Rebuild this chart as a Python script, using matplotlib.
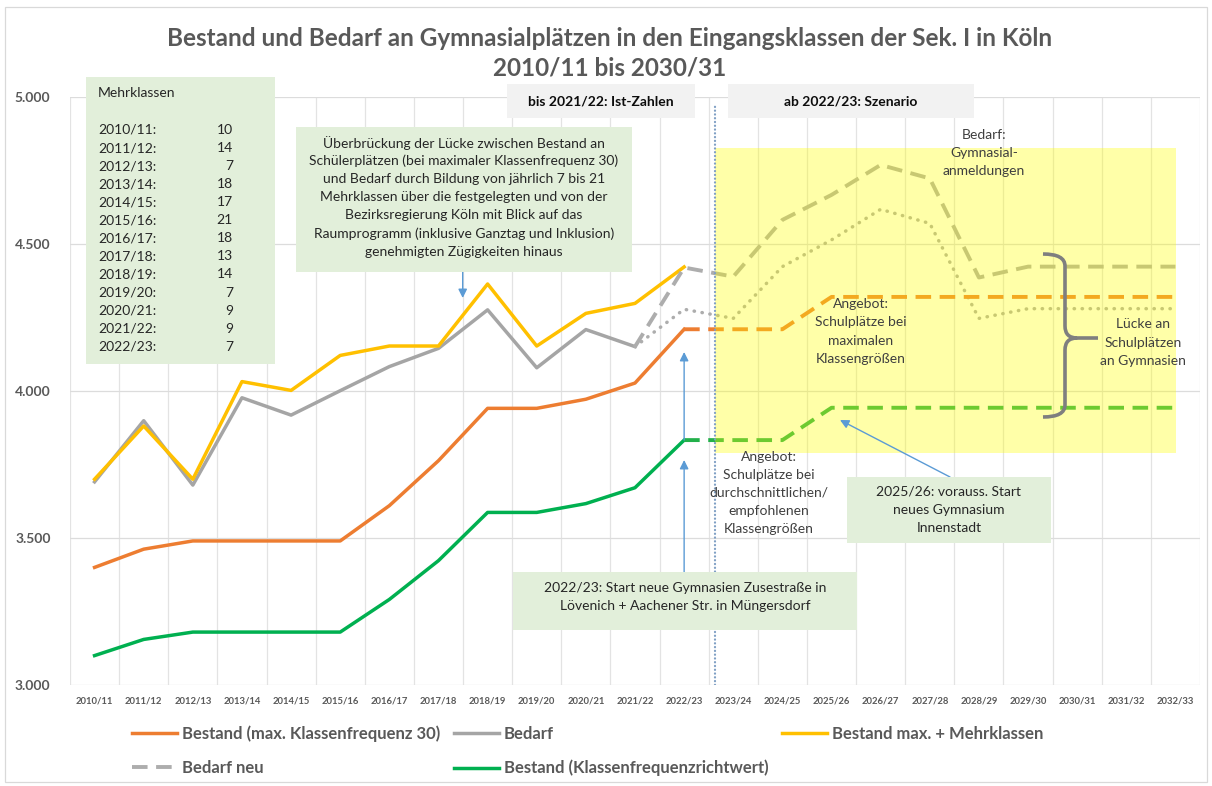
import matplotlib
matplotlib.use('Agg')
import matplotlib.pyplot as plt
import numpy as np
from matplotlib.patches import Rectangle, PathPatch
from matplotlib.path import Path

plt.rcParams['font.family'] = ['Lato', 'DejaVu Sans']

# ---------------- data ----------------
years = ['2010/11', '2011/12', '2012/13', '2013/14', '2014/15', '2015/16', '2016/17',
         '2017/18', '2018/19', '2019/20', '2020/21', '2021/22', '2022/23', '2023/24',
         '2024/25', '2025/26', '2026/27', '2027/28', '2028/29', '2029/30', '2030/31',
         '2031/32', '2032/33']

# actual values 2010/11 .. 2022/23
bestand_max = [3400, 3462, 3490, 3490, 3490, 3490, 3610, 3763, 3941, 3941, 3972, 4027, 4210]
bestand_richt = [3100, 3155, 3180, 3180, 3180, 3180, 3291, 3423, 3587, 3587, 3617, 3671, 3833]
bestand_mehr = [3700, 3881, 3700, 4032, 4002, 4121, 4153, 4153, 4364, 4153, 4264, 4298, 4422]
# 2010/11 .. 2021/22
bedarf = [3691, 3899, 3680, 3977, 3918, 4001, 4083, 4145, 4276, 4079, 4209, 4151]

# scenario 2022/23 .. 2032/33
bestand_max_szen = [4210, 4210, 4210, 4320, 4320, 4320, 4320, 4320, 4320, 4320, 4320]
bestand_richt_szen = [3833, 3833, 3833, 3943, 3943, 3943, 3943, 3943, 3943, 3943, 3943]
# 2021/22 .. 2032/33
bedarf_neu = [4151, 4420, 4389, 4582, 4667, 4769, 4723, 4386, 4423, 4423, 4423, 4423]
bedarf_neu_alt = [4151, 4278, 4247, 4423, 4514, 4618, 4570, 4247, 4280, 4280, 4280, 4280]

mk_years = ['2010/11', '2011/12', '2012/13', '2013/14', '2014/15', '2015/16', '2016/17',
            '2017/18', '2018/19', '2019/20', '2020/21', '2021/22', '2022/23']
mehrklassen = [10, 14, 7, 18, 17, 21, 18, 13, 14, 7, 9, 9, 7]

yticks = [3000, 3500, 4000, 4500, 5000]

# ---------------- layout helpers ----------------
W, H = 1212, 786
fig = plt.figure(figsize=(W / 100, H / 100), dpi=100)
AX_L, AX_R, AX_T, AX_B = 70, 1200, 97, 685
ax = fig.add_axes([AX_L / W, 1 - AX_B / H, (AX_R - AX_L) / W, (AX_B - AX_T) / H])
XMIN, XMAX = -0.5, len(years) - 0.5
YMIN, YMAX = 3000, 5000


def dx(px):
    return XMIN + (px - AX_L) / (AX_R - AX_L) * (XMAX - XMIN)


def dy(py):
    return YMIN + (AX_B - py) / (AX_B - AX_T) * (YMAX - YMIN)


def F(px, py):
    return (px / W, 1 - py / H)


x = np.arange(len(years))
i_neu = years.index('2021/22')
i_szen = years.index('2022/23')
x_ist = x[:len(bestand_max)]
x_bed = x[:len(bedarf)]
x_szen = x[i_szen:i_szen + len(bestand_max_szen)]
x_neu = x[i_neu:i_neu + len(bedarf_neu)]

C_OR = '#ED7D31'
C_GR = '#A5A5A5'
C_YE = '#FFC000'
C_GN = '#00B050'
C_GN2 = '#22B04A'
C_NEU = '#ADADAD'
LW = 2.5

l_max, = ax.plot(x_ist, bestand_max, color=C_OR, lw=LW, zorder=3,
                 label='Bestand (max. Klassenfrequenz 30)')
l_bed, = ax.plot(x_bed, bedarf, color=C_GR, lw=LW, zorder=3, label='Bedarf')
l_mehr, = ax.plot(x_ist, bestand_mehr, color=C_YE, lw=LW, zorder=3,
                  label='Bestand max. + Mehrklassen')
l_neu, = ax.plot(x_neu, bedarf_neu, color=C_NEU, lw=LW + 0.3, ls=(0, (4, 2.2)), zorder=3,
                 label='Bedarf neu')
ax.plot(x_neu, bedarf_neu_alt, color=C_NEU, lw=LW, ls=(0, (0.1, 2.2)),
        dash_capstyle='round', zorder=3)
l_richt, = ax.plot(x_ist, bestand_richt, color=C_GN, lw=LW, zorder=3,
                   label='Bestand (Klassenfrequenzrichtwert)')
ax.plot(x_szen, bestand_max_szen, color=C_OR, lw=LW + 0.3, ls=(0, (4, 2.2)), zorder=3)
ax.plot(x_szen, bestand_richt_szen, color=C_GN2, lw=LW + 0.3, ls=(0, (4, 2.2)), zorder=3)

# yellow scenario overlay
ax.add_patch(Rectangle((dx(715), dy(453)), dx(1176) - dx(715), dy(148) - dy(453),
                       facecolor='#FFFF00', alpha=0.34, edgecolor='none', zorder=4))
# vertical dotted separator
ax.plot([dx(715), dx(715)], [YMIN, dy(105)], color='#7F9FC4', lw=1.6,
        ls=(0, (0.1, 1.6)), dash_capstyle='round', zorder=5)

# axes styling
ax.set_xlim(XMIN, XMAX)
ax.set_ylim(YMIN, YMAX)
ax.set_xticks(x)
ax.set_xticklabels(years, fontsize=6.8, fontweight='bold', color='#595959')
ax.set_xticks(np.arange(XMIN, XMAX + 0.01, 1), minor=True)
ax.set_yticks(yticks)
ax.set_yticklabels([f'{v:,}'.replace(',', '.') for v in yticks], fontsize=10,
                   fontweight='bold', color='#595959')
ax.tick_params(axis='both', which='both', length=0)
ax.tick_params(axis='x', pad=8)
ax.tick_params(axis='y', pad=14)
ax.grid(True, which='minor', axis='x', color='#E3E3E3', lw=0.9)
ax.grid(True, which='major', axis='y', color='#DCDCDC', lw=0.9)
ax.grid(False, which='major', axis='x')
ax.set_axisbelow(True)
for s in ax.spines.values():
    s.set_visible(False)

# outer chart border
fig.patches.append(Rectangle(F(5, 782), 1202 / W, 775 / H, transform=fig.transFigure,
                             facecolor='none', edgecolor='#D9D9D9', lw=0.9))

# title
fig.text(*F(610, 38), 'Bestand und Bedarf an Gymnasialplätzen in den Eingangsklassen der Sek. I in Köln',
         ha='center', va='center', fontsize=17.5, fontweight='bold', color='#595959')
fig.text(*F(610, 68), '2010/11 bis 2030/31', ha='center', va='center', fontsize=17.5,
         fontweight='bold', color='#595959')


def fbox(x0, y0, x1, y1, color, z=6):
    ax.add_patch(Rectangle(F(x0, y1), (x1 - x0) / W, (y1 - y0) / H, transform=fig.transFigure,
                           facecolor=color, edgecolor='none', zorder=z, clip_on=False))


def ftext(px, py, s, ha='center', color='#262626', size=10, weight='normal', z=7):
    ax.text(*F(px, py), s, transform=fig.transFigure, ha=ha, va='center', fontsize=size,
            color=color, fontweight=weight, zorder=z, clip_on=False)


def flines(px, py0, lines, step=18.2, **kw):
    for k, s in enumerate(lines):
        ftext(px, py0 + k * step, s, **kw)


GREEN_BOX = '#E2EFDA'
# Mehrklassen box
fbox(86, 77, 275, 364, GREEN_BOX)
ftext(98, 93, 'Mehrklassen', ha='left')
for k, (yr, n) in enumerate(zip(mk_years, mehrklassen)):
    ftext(98, 130 + k * 18.06, yr + ':', ha='left')
    ftext(233, 130 + k * 18.06, str(n), ha='right')

# Ueberbrueckung box
fbox(296, 127, 632, 272, GREEN_BOX)
flines(464, 142.7, ['Überbrückung der Lücke zwischen Bestand an',
                    'Schülerplätzen (bei maximaler Klassenfrequenz 30)',
                    'und Bedarf durch Bildung von jährlich 7 bis 21',
                    'Mehrklassen über die festgelegten und von der',
                    'Bezirksregierung Köln mit Blick auf das',
                    'Raumprogramm (inklusive Ganztag und Inklusion)',
                    'genehmigten Zügigkeiten hinaus'], step=18.15)

# period label boxes
fbox(507, 84, 695, 118, '#F2F2F2')
ftext(601, 101, 'bis 2021/22: Ist-Zahlen', weight='bold', color='#0D0D0D')
fbox(728, 84, 974, 118, '#F2F2F2')
ftext(851, 101, 'ab 2022/23: Szenario', weight='bold', color='#0D0D0D')

# free annotations
TXT = '#3F3F3F'
flines(984, 135, ['Bedarf:', 'Gymnasial-', 'anmeldungen'], color=TXT)
flines(861, 304.3, ['Angebot:', 'Schulplätze bei', 'maximalen', 'Klassengrößen'], color=TXT)
flines(1143, 324.3, ['Lücke an', 'Schulplätzen', 'an Gymnasien'], color=TXT)
flines(769, 456.7, ['Angebot:', 'Schulplätze bei', 'durchschnittlichen/', 'empfohlenen',
                    'Klassengrößen'], color=TXT, step=18.1)

# school start boxes
fbox(513, 572, 857, 630, GREEN_BOX)
flines(685, 587.5, ['2022/23: Start neue Gymnasien Zusestraße in',
                    'Lövenich + Aachener Str. in Müngersdorf'], step=18.3)
fbox(847, 477, 1051, 543, GREEN_BOX)
flines(949, 491.7, ['2025/26: vorauss. Start', 'neues Gymnasium', 'Innenstadt'], step=18.3)

# arrows
BLUE = '#5B9BD5'
aprops = dict(arrowstyle='-|>', color=BLUE, lw=1.0, mutation_scale=13, shrinkA=0, shrinkB=0)
ax.annotate('', xy=(i_szen, dy(460)), xytext=(i_szen, dy(572)), arrowprops=aprops, zorder=5)
ax.annotate('', xy=(i_szen, dy(352)), xytext=(i_szen, dy(440)), arrowprops=aprops, zorder=5)
ax.annotate('', xy=(dx(462.7), dy(298)), xytext=(dx(462.7), dy(272)), arrowprops=aprops, zorder=5)
ax.annotate('', xy=(dx(840), dy(420)), xytext=(dx(950), dy(477)), arrowprops=aprops, zorder=5)

# curly brace
bx0, bxv, bxt = 1043, 1065, 1098
by0, bym, by1 = 254, 338, 417
pts_px = [(bx0, by0), (bxv, by0), (bxv, by0 + 12), (bxv, bym - 12), (bxv, bym), (bxv + 12, bym),
          (bxt, bym),
          (bxv + 12, bym), (bxv, bym), (bxv, bym + 12), (bxv, by1 - 12), (bxv, by1), (bx0, by1)]
codes = [Path.MOVETO, Path.CURVE3, Path.CURVE3, Path.LINETO, Path.CURVE3, Path.CURVE3,
         Path.LINETO,
         Path.MOVETO, Path.CURVE3, Path.CURVE3, Path.LINETO, Path.CURVE3, Path.CURVE3]
verts = [(dx(px), dy(py)) for px, py in pts_px]
ax.add_patch(PathPatch(Path(verts, codes), facecolor='none', edgecolor='#7F7F7F', lw=2.6,
                       zorder=6, capstyle='butt'))

# legend
handles = [l_max, l_neu, l_bed, l_richt, l_mehr]
leg = fig.legend(handles, [h.get_label() for h in handles], ncol=3, loc='upper left',
                 bbox_to_anchor=F(132, 725), frameon=False, borderpad=0, borderaxespad=0,
                 handlelength=2.7, handletextpad=0.3, columnspacing=0.82, labelspacing=1.1,
                 prop=dict(family=['Lato', 'DejaVu Sans'], size=12, weight='bold'),
                 labelcolor='#595959')

fig.savefig('out.png', dpi=100)
